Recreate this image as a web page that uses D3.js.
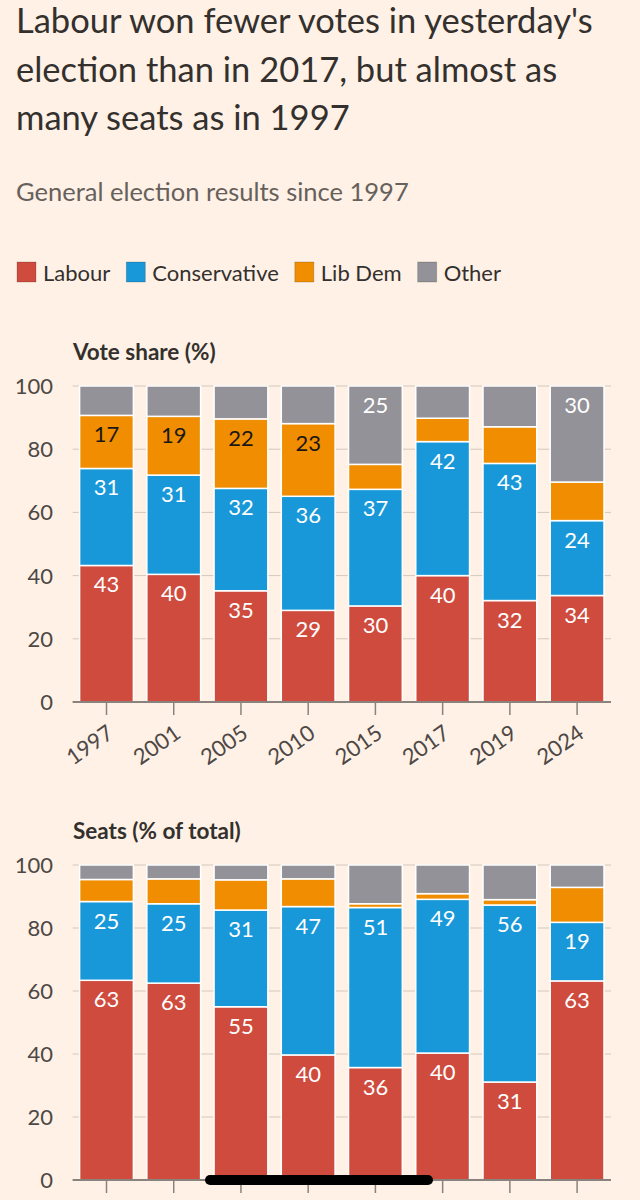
<!DOCTYPE html>
<html lang="en">
<head>
<meta charset="UTF-8">
<script src="https://d3js.org/d3.v7.min.js"></script>
<style>
    body {
        margin: 0;
        background: #fff1e5;
        font-family: Lato, "Open Sans", sans-serif;
    }
    text {
        fill: #33302e;
    }
</style>
</head>
<body>
<svg id="canvas" width="640" height="1200"></svg>
<script>
// data
const years = ["1997", "2001", "2005", "2010", "2015", "2017", "2019", "2024"];
const parties = ["Labour", "Conservative", "Lib Dem", "Other"];
const partyColors = ["#cf4b3e", "#1898d9", "#f08d00", "#939298"];

// vote share (%)
const voteLabour = [43.2, 40.4, 35.2, 29.0, 30.4, 40.0, 32.1, 33.7];
const voteConservative = [30.7, 31.4, 32.4, 36.1, 36.9, 42.4, 43.4, 23.7];
const voteLibDem = [16.8, 18.6, 22.0, 23.0, 7.9, 7.4, 11.6, 12.2];
const voteOther = [9.3, 9.6, 10.4, 11.9, 24.8, 10.2, 12.9, 30.4];

// seats (% of total)
const seatLabour = [63.4, 62.5, 55.0, 39.7, 35.7, 40.3, 31.1, 63.2];
const seatConservative = [25.0, 25.2, 30.7, 47.1, 50.8, 48.8, 56.2, 18.6];
const seatLibDem = [7.0, 7.9, 9.6, 8.8, 1.2, 1.8, 1.7, 11.1];
const seatOther = [4.6, 4.4, 4.7, 4.4, 12.3, 9.1, 11.0, 7.1];

const yTicks = [0, 20, 40, 60, 80, 100];

let svg = d3.select("#canvas");

// title + subtitle
const titleLines = ["Labour won fewer votes in yesterday's",
    "election than in 2017, but almost as",
    "many seats as in 1997"];
svg.append("g").selectAll("text")
    .data(titleLines)
    .join("text")
    .attr("x", 16)
    .attr("y", (d, i) => 33 + i * 48.5)
    .attr("font-size", 34.5)
    .text(d => d);

svg.append("text")
    .attr("x", 16)
    .attr("y", 201)
    .attr("font-size", 25.5)
    .style("fill", "#66605c")
    .text("General election results since 1997");

// legend
let lx = 17;
parties.forEach((p, i) => {
    svg.append("rect")
        .attr("x", lx).attr("y", 262)
        .attr("width", 19).attr("height", 20)
        .attr("fill", partyColors[i])
        .attr("stroke", "rgba(0,0,0,0.18)");
    let t = svg.append("text")
        .attr("x", lx + 26)
        .attr("y", 281)
        .attr("font-size", 22)
        .text(p);
    lx += 26 + t.node().getComputedTextLength() + 16;
});

function makeRows(lab, con, ld, oth) {
    return years.map((y, i) => ({
        year: y, "Labour": lab[i], "Conservative": con[i], "Lib Dem": ld[i], "Other": oth[i]
    }));
}

function drawPanel(title, titleY, y0, y100, rows, showYears) {
    const xScale = d3.scaleBand()
        .domain(years)
        .range([79.6, 604])
        .paddingInner(0.2)
        .paddingOuter(0);
    const yScale = d3.scaleLinear()
        .domain([0, 100])
        .range([y0, y100]);

    svg.append("text")
        .attr("x", 73)
        .attr("y", titleY)
        .attr("font-size", 22.5)
        .attr("font-weight", 700)
        .text(title);

    // gridlines
    svg.append("g")
        .selectAll("line")
        .data(yTicks.filter(d => d > 0))
        .join("line")
        .attr("x1", 72.6).attr("x2", 611)
        .attr("y1", d => yScale(d)).attr("y2", d => yScale(d))
        .attr("stroke", "#d3c8be")
        .attr("stroke-width", 1);

    // y labels
    svg.append("g")
        .selectAll("text")
        .data(yTicks)
        .join("text")
        .attr("x", 53)
        .attr("y", d => yScale(d))
        .attr("dy", "0.36em")
        .attr("text-anchor", "end")
        .attr("font-size", 22)
        .style("fill", "#4d4845")
        .text(d => d);

    const series = d3.stack().keys(parties)(rows);

    const groups = svg.append("g")
        .selectAll("g")
        .data(series)
        .join("g")
        .attr("fill", (d, i) => partyColors[i]);

    groups.selectAll("rect")
        .data(d => d)
        .join("rect")
        .attr("x", d => xScale(d.data.year))
        .attr("width", xScale.bandwidth())
        .attr("y", d => yScale(d[1]))
        .attr("height", d => yScale(d[0]) - yScale(d[1]))
        .attr("stroke", "#fff")
        .attr("stroke-width", 1.5);

    groups.selectAll("text")
        .data(d => d.map(v => ({ v: v, key: d.key })).filter(o => o.v[1] - o.v[0] >= 15))
        .join("text")
        .attr("x", o => xScale(o.v.data.year) + xScale.bandwidth() / 2)
        .attr("y", o => yScale(o.v[1]) + 27)
        .attr("text-anchor", "middle")
        .attr("font-size", 22)
        .style("fill", o => o.key === "Lib Dem" ? "#1a1817" : "#fff")
        .text(o => Math.round(o.v[1] - o.v[0]));

    // baseline + ticks
    svg.append("line")
        .attr("x1", 72.6).attr("x2", 611)
        .attr("y1", y0).attr("y2", y0)
        .attr("stroke", "#8a837d")
        .attr("stroke-width", 2);

    svg.append("g")
        .selectAll("line")
        .data(years)
        .join("line")
        .attr("x1", d => xScale(d) + xScale.bandwidth() / 2)
        .attr("x2", d => xScale(d) + xScale.bandwidth() / 2)
        .attr("y1", y0).attr("y2", y0 + 13)
        .attr("stroke", "#8a837d")
        .attr("stroke-width", 1.5);

    if (showYears) {
        svg.append("g")
            .selectAll("text")
            .data(years)
            .join("text")
            .attr("transform", d => `translate(${xScale(d) + xScale.bandwidth() / 2 - 1}, ${y0 + 21}) rotate(-35)`)
            .attr("text-anchor", "end")
            .attr("dy", "0.75em")
            .attr("font-size", 22)
            .style("fill", "#4d4845")
            .text(d => d);
    }
}

drawPanel("Vote share (%)", 360, 702, 386,
    makeRows(voteLabour, voteConservative, voteLibDem, voteOther), true);
// year labels of the lower panel fall below the bottom of the picture
drawPanel("Seats (% of total)", 839, 1180, 865,
    makeRows(seatLabour, seatConservative, seatLibDem, seatOther), false);

// phone home indicator overlay
svg.append("rect")
    .attr("x", 205).attr("y", 1175)
    .attr("width", 228).attr("height", 10)
    .attr("rx", 5)
    .attr("fill", "#000");
</script>
</body>
</html>
